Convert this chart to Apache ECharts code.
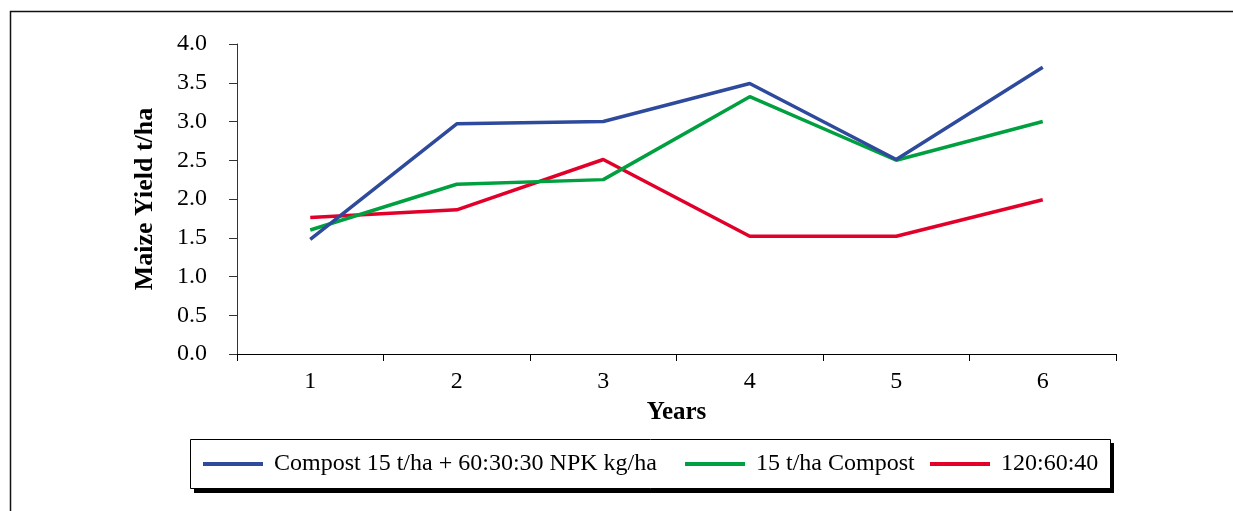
<!DOCTYPE html>
<html>
<head>
<meta charset="utf-8">
<script src="https://cdn.jsdelivr.net/npm/echarts@6/dist/echarts.min.js"></script>
<style>
html,body{margin:0;padding:0;background:#fff;}
#chart{width:1233px;height:511px;}
</style>
</head>
<body>
<div id="chart"></div>
<script>
const years = ['1', '2', '3', '4', '5', '6'];
const seriesNames = ['Compost 15 t/ha + 60:30:30 NPK kg/ha', '15 t/ha Compost', '120:60:40'];
const compostNpk = [1.48, 2.97, 3.00, 3.49, 2.51, 3.70];
const compostOnly = [1.60, 2.19, 2.25, 3.32, 2.50, 3.00];
const mineral = [1.76, 1.86, 2.51, 1.52, 1.52, 1.99];
const colors = ['#2E4A9C', '#00A040', '#E2002B'];

const FONT = '"Liberation Serif", "Times New Roman", serif';
const chart = echarts.init(document.getElementById('chart'), null, {renderer: 'canvas'});

const dataSets = [compostNpk, compostOnly, mineral];
const legendLefts = [203, 685, 930];

chart.setOption({
  animation: false,
  backgroundColor: '#fff',
  grid: {left: 237, right: 117, top: 44, bottom: 157},
  xAxis: {
    type: 'category',
    data: years,
    boundaryGap: true,
    name: 'Years',
    nameLocation: 'middle',
    nameGap: 46,
    nameTextStyle: {fontFamily: FONT, fontSize: 25, fontWeight: 'bold', color: '#000'},
    axisLine: {lineStyle: {color: '#000', width: 1}},
    axisTick: {show: true, length: 7, lineStyle: {color: '#000'}},
    axisLabel: {fontFamily: FONT, fontSize: 24, color: '#000', margin: 16},
    splitLine: {show: false}
  },
  yAxis: {
    type: 'value',
    min: 0, max: 4, interval: 0.5,
    name: 'Maize Yield t/ha',
    nameLocation: 'middle',
    nameGap: 79,
    nameRotate: 90,
    nameTextStyle: {fontFamily: FONT, fontSize: 26, fontWeight: 'bold', color: '#000'},
    axisLine: {show: true, lineStyle: {color: '#333', width: 1}},
    axisTick: {show: true, length: 8, inside: false, lineStyle: {color: '#333'}},
    axisLabel: {fontFamily: FONT, fontSize: 24, color: '#000', margin: 30,
      formatter: v => v.toFixed(1)},
    splitLine: {show: false}
  },
  legend: seriesNames.map((n, i) => ({
    data: [n],
    left: legendLefts[i],
    top: 452,
    padding: 0,
    icon: 'rect',
    itemWidth: 60,
    itemHeight: 4,
    textStyle: {fontFamily: FONT, fontSize: 24, color: '#000', padding: [0, 0, 0, 6]},
    z: 10
  })),
  graphic: [
    {type: 'rect', z: -10, silent: true, shape: {x: 10.5, y: 11.5, width: 1300, height: 600},
      style: {fill: 'none', stroke: '#111', lineWidth: 1.5}},
    {type: 'rect', z: 1, silent: true, shape: {x: 194, y: 443, width: 920, height: 50},
      style: {fill: '#000'}},
    {type: 'rect', z: 2, silent: true, shape: {x: 190.5, y: 439.5, width: 920, height: 49},
      style: {fill: '#fff', stroke: '#000', lineWidth: 1}}
  ],
  series: seriesNames.map((n, i) => ({
    name: n,
    type: 'line',
    data: dataSets[i],
    symbol: 'none',
    color: colors[i],
    lineStyle: {width: 3.5, color: colors[i]},
    z: 3 + (2 - i)
  }))
});
</script>
</body>
</html>
